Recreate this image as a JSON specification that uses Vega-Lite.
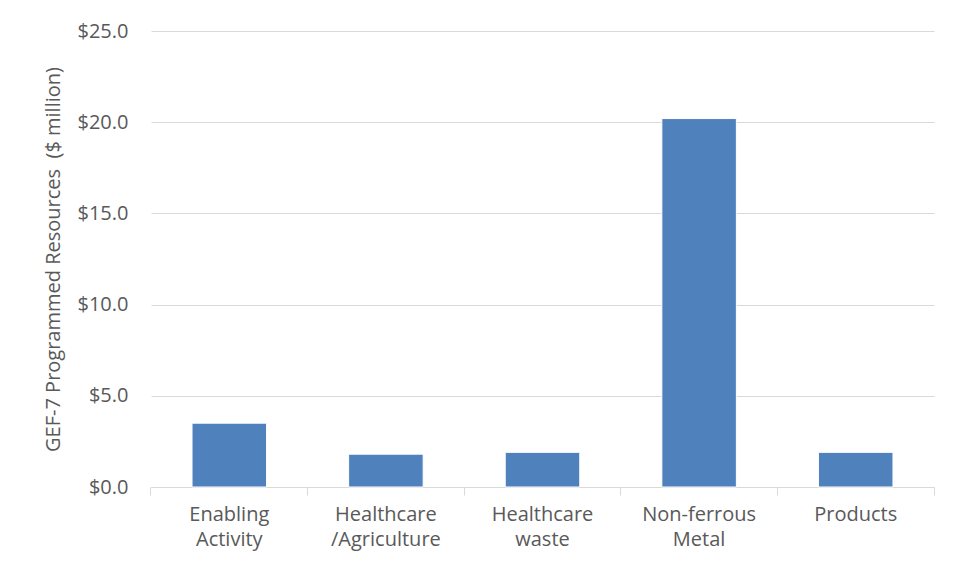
{
  "$schema": "https://vega.github.io/schema/vega-lite/v6.json",
  "width": 783,
  "height": 456,
  "autosize": "none",
  "padding": {"left": 151, "top": 31, "right": 29, "bottom": 94},
  "background": "white",
  "config": {
    "view": {"stroke": null},
    "font": "Open Sans",
    "axis": {"labelFont": "Open Sans", "titleFont": "Open Sans", "labelColor": "#595959", "titleColor": "#595959"}
  },
  "data": {
    "values": [
      {"category": "Enabling Activity", "resources": 3.5},
      {"category": "Healthcare/Agriculture", "resources": 1.8},
      {"category": "Healthcare waste", "resources": 1.9},
      {"category": "Non-ferrous Metal", "resources": 20.2},
      {"category": "Products", "resources": 1.9}
    ]
  },
  "layer": [
    {
      "mark": {"type": "bar", "color": "#4F81BD", "stroke": "white", "strokeWidth": 1},
      "encoding": {
        "x": {
          "field": "category",
          "type": "nominal",
          "sort": null,
          "scale": {"paddingInner": 0.524, "paddingOuter": 0.262},
          "axis": {
            "orient": "bottom",
            "title": null,
            "labelAngle": 0,
            "labelFontSize": 20,
            "labelLineHeight": 25,
            "labelPadding": 9,
            "labelBaseline": "top",
            "labelExpr": "split(replace(datum.value, '/', ' /'), ' ')",
            "bandPosition": -0.5505,
            "tickSize": 8,
            "tickColor": "#D9D9D9",
            "domainColor": "#D9D9D9",
            "domainWidth": 1,
            "grid": false
          }
        },
        "y": {
          "field": "resources",
          "type": "quantitative",
          "scale": {"domain": [0, 25], "nice": false},
          "axis": {
            "title": "GEF-7 Programmed Resources \u00a0($ million)",
            "titleFontSize": 20,
            "titleFontWeight": "normal",
            "titlePadding": 14,
            "values": [0, 5, 10, 15, 20, 25],
            "format": "$.1f",
            "labelFontSize": 20,
            "labelPadding": 23,
            "ticks": false,
            "domain": false,
            "grid": true,
            "gridColor": "#D9D9D9",
            "gridWidth": 1
          }
        }
      }
    },
    {
      "mark": {"type": "bar", "opacity": 0},
      "encoding": {
        "x": {
          "field": "category",
          "type": "nominal",
          "sort": null,
          "axis": {
            "orient": "bottom",
            "title": null,
            "values": ["Products"],
            "bandPosition": 1.5505,
            "labels": false,
            "domain": false,
            "grid": false,
            "tickSize": 8,
            "tickColor": "#D9D9D9"
          }
        },
        "y": {"field": "resources", "type": "quantitative"}
      }
    }
  ],
  "resolve": {"axis": {"x": "independent"}}
}
